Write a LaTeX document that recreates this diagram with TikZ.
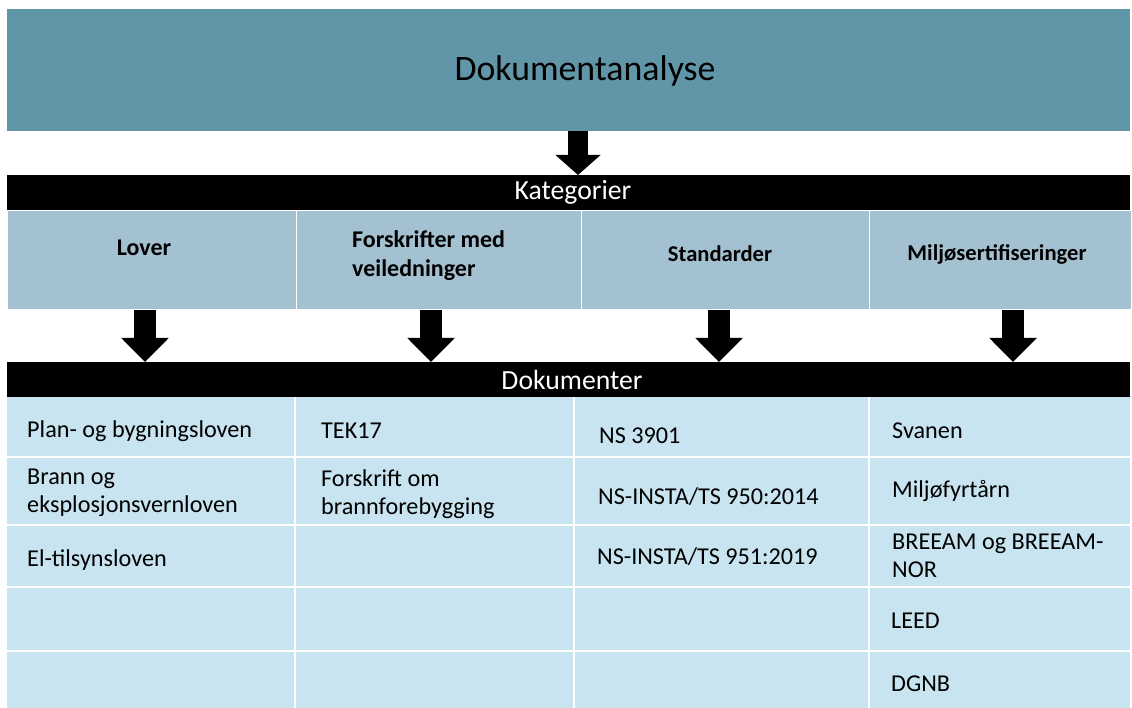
\documentclass[tikz,border=0pt]{standalone}
\usepackage{fontspec}
\setmainfont{Carlito}
\usetikzlibrary{arrows.meta}
\definecolor{topc}{RGB}{96,150,168}
\definecolor{catc}{RGB}{163,193,209}
\definecolor{tabc}{RGB}{200,228,240}
\begin{document}
\begin{tikzpicture}[x=1pt,y=-1pt,
  box/.style={anchor=north west, inner sep=0pt, outer sep=0pt},
  bar/.style={box, fill=black, minimum width=1123pt, minimum height=35pt},
  bartext/.style={text=white, font=\fontsize{27.7}{32}\selectfont, inner sep=0pt},
  catcell/.style={box, fill=catc, draw=white, line width=1pt, minimum height=99pt},
  cattext/.style={font=\fontsize{22.6}{29}\selectfont\bfseries, inner sep=0pt},
  cattextb/.style={font=\fontsize{24}{29}\selectfont\bfseries, inner sep=0pt},
  doctext/.style={font=\fontsize{24.2}{28}\selectfont, inner sep=0pt, anchor=west, align=left},
  grid/.style={white, line width=1.5pt},
  bigarrow/.style={line width=20pt, -{Triangle[length=20pt,width=44pt]}},
  smallarrow/.style={line width=22pt, -{Triangle[length=24pt,width=46pt]}}
]
\useasboundingbox (0,0) rectangle (1132,708);

% top box
\node[box, fill=topc, minimum width=1123pt, minimum height=122pt] (top) at (7,9) {};
\node[font=\fontsize{35.8}{42}\selectfont, inner sep=0pt] (toptext) at (585,71) {Dokumentanalyse};

% Kategorier bar
\node[bar] (kat) at (7,175) {};
\node[bartext] (kattext) at (573,192) {Kategorier};

% category cells
\node[catcell, minimum width=289pt] (c1) at (7,211) {};
\node[catcell, minimum width=285pt] (c2) at (296,211) {};
\node[catcell, minimum width=288pt] (c3) at (581,211) {};
\node[catcell, minimum width=262pt] (c4) at (869,211) {};
\node[cattextb] (t1) at (144,248) {Lover};
\node[cattextb, anchor=west, align=left] (t2) at (352,256) {Forskrifter med\\veiledninger};
\node[cattext] (t3) at (720,254) {Standarder};
\node[cattext] (t4) at (997,254) {Miljøsertifiseringer};

% Dokumenter bar
\node[bar] (dok) at (7,362) {};
\node[bartext] (doktext) at (572,380) {Dokumenter};

% table
\node[box, fill=tabc, minimum width=1123pt, minimum height=311pt] (tab) at (7,397) {};
\foreach \yy in {457,525,587,651} \draw[grid] (7,\yy) -- (1132,\yy);
\foreach \xx in {295,574,869} \draw[grid] (\xx,397) -- (\xx,708);

% arrows
\coordinate (a0) at (578,0);
\coordinate (a1) at (145,0);
\coordinate (a2) at (431,0);
\coordinate (a3) at (719,0);
\coordinate (a4) at (1013,0);
\draw[bigarrow] (top.south -| a0) -- (kat.north -| a0);
\draw[smallarrow] (c1.south -| a1) -- (dok.north -| a1);
\draw[smallarrow] (c2.south -| a2) -- (dok.north -| a2);
\draw[smallarrow] (c3.south -| a3) -- (dok.north -| a3);
\draw[smallarrow] (c4.south -| a4) -- (dok.north -| a4);

% documents
\node[doctext] (d11) at (27,431) {Plan- og bygningsloven};
\node[doctext] (d12) at (27,493) {Brann og\\eksplosjonsvernloven};
\node[doctext] (d13) at (27,560) {El-tilsynsloven};
\node[doctext] (d21) at (321,431) {TEK17};
\node[doctext] (d22) at (321,494) {Forskrift om\\brannforebygging};
\node[doctext] (d31) at (599,436) {NS 3901};
\node[doctext] (d32) at (598,497) {NS-INSTA/TS 950:2014};
\node[doctext] (d33) at (597,557) {NS-INSTA/TS 951:2019};
\node[doctext] (d41) at (892,431) {Svanen};
\node[doctext] (d42) at (892,491) {Miljøfyrtårn};
\node[doctext] (d43) at (892,556) {BREEAM og BREEAM-\\NOR};
\node[doctext] (d44) at (891,621) {LEED};
\node[doctext] (d45) at (891,684) {DGNB};
\end{tikzpicture}
\end{document}
